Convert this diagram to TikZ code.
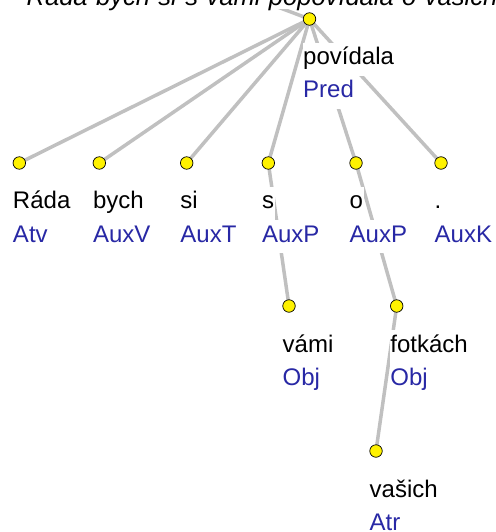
\documentclass[tikz,border=0pt]{standalone}
\usepackage{fontspec}
\setmainfont{Liberation Sans}
\pgfdeclarelayer{edges}
\pgfsetlayers{edges,main}
\definecolor{edgegray}{RGB}{192,192,192}
\definecolor{funcblue}{RGB}{40,40,165}
\tikzset{
 dot/.style={circle, fill=yellow, draw=black, line width=0.7bp, minimum size=12.5bp, inner sep=0pt},
 lbl/.style={anchor=base west, fill=white, inner xsep=0.5bp, inner ysep=0pt, text height=22bp, text depth=11bp, font=\fontsize{24bp}{28bp}\selectfont},
 word/.style={lbl, text=black},
 func/.style={lbl, text=funcblue},
 edge/.style={draw=edgegray, line width=3.5bp},
}
\begin{document}
\begin{tikzpicture}[x=1bp,y=-1bp]
\useasboundingbox (0,0) rectangle (496,532);
\clip (0,0) rectangle (496,532);
% title (clipped at the top)
\node[anchor=base west, inner sep=0pt, fill=white, text depth=3bp, font=\fontsize{25.5bp}{30bp}\selectfont\itshape] (title) at (26.5,6) {\spaceskip=8.5bp Ráda bych si s vámi popovídala o vašich fotkách.};
% tree nodes
\node[dot] (r) at (309.5,19) {};
\node[dot] (a) at (19.3,163) {};
\node[dot] (b) at (99.3,163) {};
\node[dot] (c) at (186.7,163) {};
\node[dot] (d) at (268.3,163) {};
\node[dot] (e) at (356,163) {};
\node[dot] (f) at (441,163) {};
\node[dot] (g) at (289,306) {};
\node[dot] (h) at (396.7,306) {};
\node[dot] (i) at (376,451) {};
\coordinate (top) at (259,0);
% labels
\node[word] (wr) at (302.5,65) {povídala};
\node[func] (fr) at (302.5,98) {Pred};
\node[word] (wa) at (12.3,209) {Ráda};
\node[func] (fa) at (12.3,242) {Atv};
\node[word] (wb) at (92.3,209) {bych};
\node[func] (fb) at (92.3,242) {AuxV};
\node[word] (wc) at (179.7,209) {si};
\node[func] (fc) at (179.7,242) {AuxT};
\node[word] (wd) at (261.3,209) {s};
\node[func] (fd) at (261.3,242) {AuxP};
\node[word] (we) at (349,209) {o};
\node[func] (fe) at (349,242) {AuxP};
\node[word] (wf) at (434,209) {.};
\node[func] (ff) at (434,242) {AuxK};
\node[word] (wg) at (282,352) {vámi};
\node[func] (fg) at (282,385) {Obj};
\node[word] (wh) at (389.7,352) {fotkách};
\node[func] (fh) at (389.7,385) {Obj};
\node[word] (wi) at (369,497) {vašich};
\node[func] (fi) at (369,530) {Atr};
% edges
\begin{pgfonlayer}{edges}
\draw[edge] (top) -- (r.center);
\foreach \n in {a,b,c,d,e,f} \draw[edge] (r.center) -- (\n.center);
\draw[edge] (d.center) -- (g.center);
\draw[edge] (e.center) -- (h.center);
\draw[edge] (h.center) -- (i.center);
\end{pgfonlayer}
\end{tikzpicture}
\end{document}
